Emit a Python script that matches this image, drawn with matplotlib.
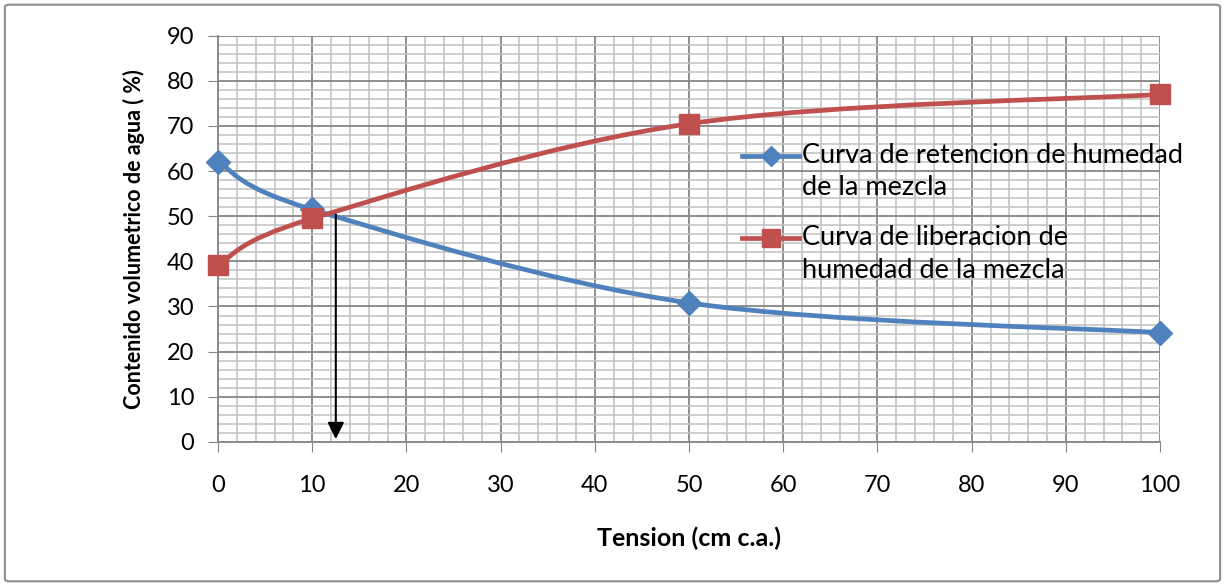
import numpy as np
import matplotlib
matplotlib.use("Agg")
import matplotlib.pyplot as plt
from matplotlib.path import Path
from matplotlib.patches import PathPatch, FancyBboxPatch
from matplotlib.ticker import MultipleLocator

plt.rcParams['font.family'] = ['Lato', 'DejaVu Sans']

# data
tension = [0, 10, 50, 100]
retencion = [62.0, 51.5, 30.8, 24.2]
liberacion = [39.3, 49.5, 70.5, 77.0]
label_ret = ["Curva de retencion de humedad", "de la mezcla"]
label_lib = ["Curva de liberacion de", "humedad de la mezcla"]
arrow_x = 12.5
arrow_top = 51.0

blue = "#4F81BD"
red = "#C0504D"


def smooth_path(x, y):
    # catmull-rom style smoothing, like the spreadsheet's smoothed line
    p = np.column_stack([x, y]).astype(float)
    p = np.vstack([p[0], p, p[-1]])
    verts = [p[1]]
    codes = [Path.MOVETO]
    for i in range(1, len(p) - 2):
        c1 = p[i] + (p[i + 1] - p[i - 1]) / 6.0
        c2 = p[i + 1] - (p[i + 2] - p[i]) / 6.0
        verts += [c1, c2, p[i + 1]]
        codes += [Path.CURVE4] * 3
    return Path(verts, codes)


fig = plt.figure(figsize=(12.25, 5.86), dpi=100)
ax = fig.add_axes([0.178, 0.246, 0.769, 0.693])

ax.set_xlim(0, 100)
ax.set_ylim(0, 90)
ax.xaxis.set_major_locator(MultipleLocator(10))
ax.yaxis.set_major_locator(MultipleLocator(10))
ax.xaxis.set_minor_locator(MultipleLocator(2))
ax.yaxis.set_minor_locator(MultipleLocator(2))
ax.grid(which='major', color='#868686', lw=1.3)
ax.grid(which='minor', color='#c0c0c0', lw=1.1)
ax.set_axisbelow(True)
for s in ['top', 'right']:
    ax.spines[s].set_visible(False)
for s in ['left', 'bottom']:
    ax.spines[s].set_color('#868686')
    ax.spines[s].set_linewidth(1.3)
ax.tick_params(which='major', length=7, color='#868686', labelsize=17)
ax.tick_params(axis='x', pad=17)
ax.tick_params(axis='y', pad=10)
ax.tick_params(which='minor', length=0)

styles = [(retencion, blue, 'D', 12), (liberacion, red, 's', 14.5)]
for yv, col, mk, ms in styles:
    ax.add_patch(PathPatch(smooth_path(tension, yv), fill=False, ec=col, lw=3.4, zorder=3))
    ax.plot(tension, yv, ls='none', marker=mk, ms=ms, color=col, zorder=4, clip_on=False)

ax.annotate('', xy=(arrow_x, 0), xytext=(arrow_x, arrow_top),
            arrowprops=dict(arrowstyle='-|>', color='black', lw=1.5, mutation_scale=25),
            zorder=5)

ax.set_xlabel('Tension (cm c.a.)', fontsize=18, fontweight='bold', labelpad=22)
ax.set_ylabel('Contenido volumetrico de agua ( %)', fontsize=15.5, fontweight='bold', labelpad=16)

# legend drawn by hand so the key sits on the first text line, as in the reference
hx0, hx1, tx = 0.556, 0.617, 0.620
for (yv, col, mk, ms), lines, y1, y2 in zip(styles, [label_ret, label_lib],
                                            [0.705, 0.503], [0.626, 0.422]):
    ax.plot([hx0, hx1], [y1, y1], transform=ax.transAxes, color=col, lw=3.4,
            clip_on=False, zorder=6)
    ax.plot([(hx0 + hx1) / 2], [y1], transform=ax.transAxes, color=col, marker=mk,
            ms=ms * 0.85, clip_on=False, zorder=6)
    ax.text(tx, y1, lines[0], transform=ax.transAxes, fontsize=19.5, va='center', zorder=6)
    ax.text(tx, y2, lines[1], transform=ax.transAxes, fontsize=19.5, va='center', zorder=6)

fig.patches.append(FancyBboxPatch((0.004, 0.008), 0.992, 0.984,
                                  boxstyle='round,pad=0,rounding_size=0.004',
                                  transform=fig.transFigure, fill=False,
                                  ec='#8c8c8c', lw=1.5))

fig.savefig('out.png', dpi=100)
